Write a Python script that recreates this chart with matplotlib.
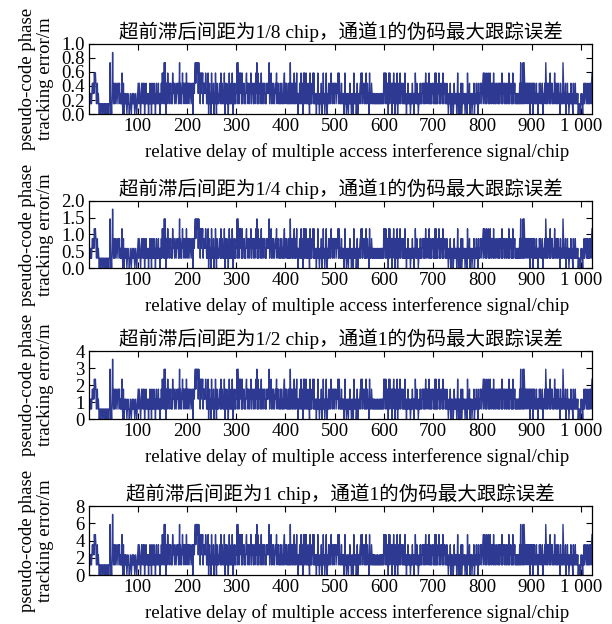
import numpy as np
import matplotlib.pyplot as plt

plt.rcParams['font.family'] = ['Liberation Serif', 'Noto Sans CJK SC']
plt.rcParams['font.size'] = 13.5

# tracking error per chip, in quantised steps
level_blocks = [
    "2121212" "3232434312312" "1010111011101011101101" "1501" "0262131"
    "2312321323121" "141" "030" "1212101211012101211210121012",
    "3132102312313021" "312120213120312131202" "3121312021314" "24151503"
    "3142313231214232132123" "23125132" "124231323142",
    "31323123213023" "245355452534" "14243413232431"
    "21402312041213021420312123" "2141" "231214032131202412131420231213",
    "2515314" "2431413231213423132" "13241323123124" "2514"
    "13231241321323121323" "23513" "2412313212" "3241323121" "3123121341" "3",
    "23121313" "151" "321312413" "12412021321412304141" "24121312041213241412"
    "120214120121302141201241021312" "3142312313",
    "2312324143121312" "1201412012" "1021312012" "1041212013" "0121"
    "231424132312" "1412312041213212" "12121112121112121212" "14",
    "2414313" "30414231303241302314032" "1341323131" "2141202131" "2120121312"
    "0214213120" "12131213" "23131241323124" "13121323",
    "1214141213241213" "231413231213" "1201213021" "2101312120" "1412021030"
    "1312120121" "0412130212" "0121301213" "12031213" "2312",
    "341423" "141324131421323141231" "2312313" "1323141323132"
    "131231413231214132312" "121212" "131513" "215153" "132313231" "30313",
    "230313" "1213120213231213021" "23153" "131323141323121" "24132"
    "131231203121" "153" "121302131201213121031213" "12112011101",
    "21102" "131232131213123134",
]
levels = np.array([int(c) for c in "".join(level_blocks)])
chips = np.arange(1, len(levels) + 1)

spacing_labels = ['1/8', '1/4', '1/2', '1']
unit_m = [0.1465, 0.293, 0.586, 1.172]
y_ticks = [[0.0, 0.2, 0.4, 0.6, 0.8, 1.0],
           [0.0, 0.5, 1.0, 1.5, 2.0],
           [0, 1, 2, 3, 4],
           [0, 2, 4, 6, 8]]
y_fmt = ['{:.1f}', '{:.1f}', '{:.0f}', '{:.0f}']
x_ticks = [100, 200, 300, 400, 500, 600, 700, 800, 900, 1000]
x_tick_labels = ['100', '200', '300', '400', '500', '600', '700', '800', '900', '1 000']

# axes boxes (bottom, height) in figure fractions
boxes = [(0.8173, 0.1122), (0.5705, 0.1074), (0.3285, 0.1090), (0.0785, 0.1106)]

fig = plt.figure(figsize=(6.12, 6.24), dpi=100)

for i in range(4):
    bottom, height = boxes[i]
    ax = fig.add_axes([0.1454, bottom, 0.822, height])
    ax.plot(chips, levels * unit_m[i], color='#2e3a92', linewidth=1.0)
    ax.set_xlim(1, 1023)
    ax.set_ylim(y_ticks[i][0], y_ticks[i][-1])
    ax.set_xticks(x_ticks)
    ax.set_xticklabels(x_tick_labels)
    ax.set_yticks(y_ticks[i])
    ax.set_yticklabels([y_fmt[i].format(v) for v in y_ticks[i]])
    ax.tick_params(direction='in', top=True, right=True, length=4, width=0.8, pad=3)
    for s in ax.spines.values():
        s.set_linewidth(0.9)
    ax.set_title('超前滞后间距为%s chip，通道1的伪码最大跟踪误差' % spacing_labels[i],
                 fontsize=14, pad=4)
    ax.set_xlabel('relative delay of multiple access interference signal/chip',
                  labelpad=6, x=0.533)
    ax.set_ylabel('pseudo-code phase\ntracking error/m', linespacing=1.05)
    ax.yaxis.set_label_coords(-0.07, 0.5)

fig.savefig('out.png', dpi=100)
